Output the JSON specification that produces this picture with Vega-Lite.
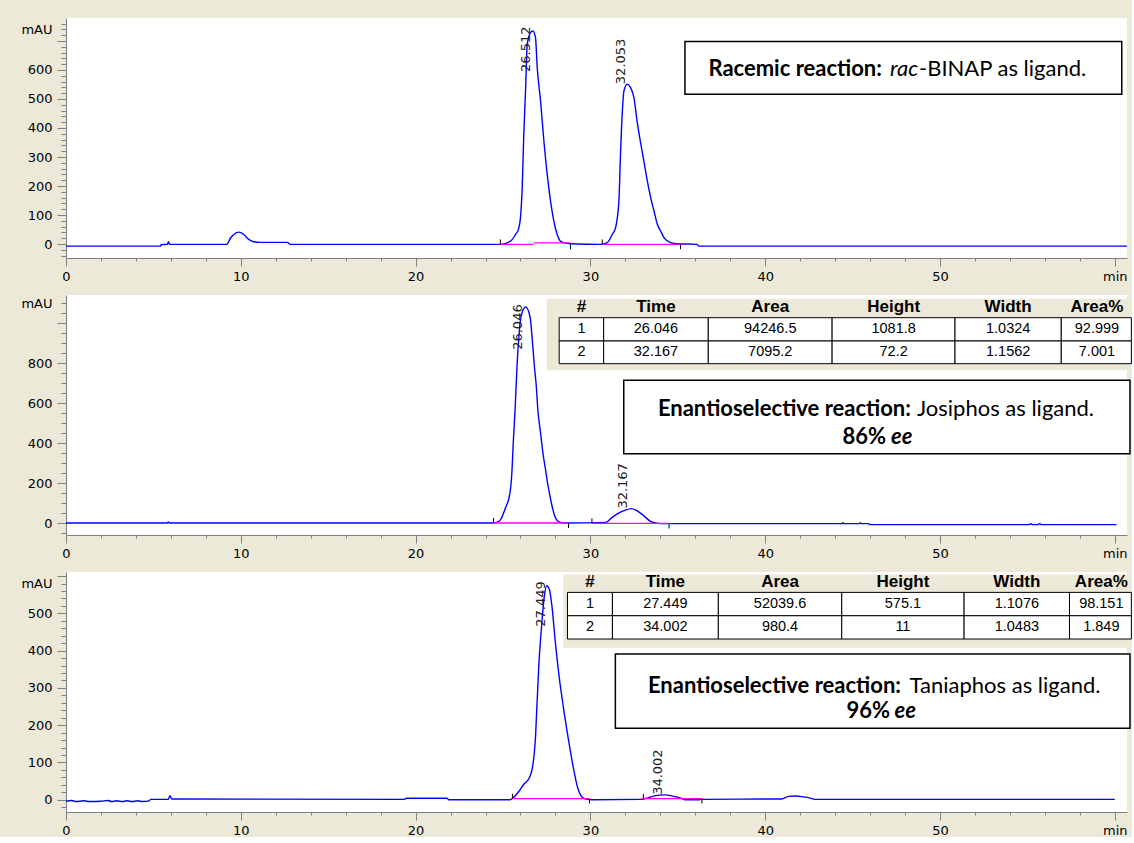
{
  "$schema": "https://vega.github.io/schema/vega-lite/v6.json",
  "background": "#ECE9D8",
  "padding": {"left": 20, "top": 17, "right": 0, "bottom": 0},
  "bounds": "flush",
  "spacing": 37,
  "config": {
    "view": {"fill": "white", "stroke": null},
    "axis": {"domainColor": "#808080", "tickColor": "#808080", "labelFont": "DejaVu Sans", "labelFontSize": 13, "labelColor": "#000000", "grid": false, "labelOverlap": false, "labelFlush": false, "labelBound": false, "tickCount": 200}
  },
  "datasets": {
    "trace": [
      {"p":"A","t":0,"v":-7},{"p":"A","t":5.4,"v":-7},{"p":"A","t":5.45,"v":-2},{"p":"A","t":5.8,"v":-1},{"p":"A","t":5.86,"v":8},{"p":"A","t":5.92,"v":-1},{"p":"A","t":9.2,"v":-1},{"p":"A","t":9.4,"v":20},{"p":"A","t":9.6,"v":33},{"p":"A","t":9.88,"v":41},{"p":"A","t":10.17,"v":33},{"p":"A","t":10.45,"v":16},{"p":"A","t":10.74,"v":8},{"p":"A","t":11.1,"v":6},{"p":"A","t":12.65,"v":6},{"p":"A","t":12.84,"v":-1},{"p":"A","t":24.85,"v":-1},{"p":"A","t":25.43,"v":10},{"p":"A","t":25.72,"v":33},{"p":"A","t":25.91,"v":56},{"p":"A","t":26.0,"v":91},{"p":"A","t":26.1,"v":194},{"p":"A","t":26.19,"v":378},{"p":"A","t":26.29,"v":528},{"p":"A","t":26.39,"v":689},{"p":"A","t":26.58,"v":729},{"p":"A","t":26.71,"v":734},{"p":"A","t":26.86,"v":711},{"p":"A","t":26.96,"v":608},{"p":"A","t":27.15,"v":493},{"p":"A","t":27.34,"v":355},{"p":"A","t":27.53,"v":240},{"p":"A","t":27.72,"v":148},{"p":"A","t":27.91,"v":79},{"p":"A","t":28.1,"v":33},{"p":"A","t":28.29,"v":10},{"p":"A","t":28.47,"v":5},{"p":"A","t":28.86,"v":1},{"p":"A","t":30.58,"v":-1},{"p":"A","t":30.97,"v":5},{"p":"A","t":31.25,"v":33},{"p":"A","t":31.44,"v":56},{"p":"A","t":31.63,"v":148},{"p":"A","t":31.73,"v":321},{"p":"A","t":31.83,"v":459},{"p":"A","t":31.92,"v":528},{"p":"A","t":32.11,"v":551},{"p":"A","t":32.3,"v":539},{"p":"A","t":32.49,"v":505},{"p":"A","t":32.68,"v":420},{"p":"A","t":32.87,"v":350},{"p":"A","t":33.06,"v":286},{"p":"A","t":33.26,"v":217},{"p":"A","t":33.45,"v":160},{"p":"A","t":33.64,"v":114},{"p":"A","t":33.83,"v":68},{"p":"A","t":34.02,"v":45},{"p":"A","t":34.21,"v":22},{"p":"A","t":34.59,"v":5},{"p":"A","t":34.97,"v":1},{"p":"A","t":36.1,"v":-1},{"p":"A","t":36.2,"v":-7},{"p":"A","t":60.7,"v":-7},
      {"p":"B","t":0,"v":0},{"p":"B","t":5.8,"v":0},{"p":"B","t":5.85,"v":5},{"p":"B","t":5.9,"v":0},{"p":"B","t":24.4,"v":0},{"p":"B","t":24.8,"v":10},{"p":"B","t":25.13,"v":72},{"p":"B","t":25.4,"v":150},{"p":"B","t":25.5,"v":240},{"p":"B","t":25.6,"v":420},{"p":"B","t":25.7,"v":580},{"p":"B","t":25.8,"v":780},{"p":"B","t":25.9,"v":920},{"p":"B","t":26.05,"v":1040},{"p":"B","t":26.3,"v":1080},{"p":"B","t":26.55,"v":1030},{"p":"B","t":26.7,"v":890},{"p":"B","t":26.8,"v":780},{"p":"B","t":26.9,"v":690},{"p":"B","t":27.0,"v":560},{"p":"B","t":27.15,"v":450},{"p":"B","t":27.3,"v":340},{"p":"B","t":27.41,"v":280},{"p":"B","t":27.55,"v":200},{"p":"B","t":27.68,"v":138},{"p":"B","t":27.82,"v":80},{"p":"B","t":27.95,"v":38},{"p":"B","t":28.1,"v":12},{"p":"B","t":28.25,"v":4},{"p":"B","t":28.5,"v":0},{"p":"B","t":30.89,"v":3},{"p":"B","t":31.16,"v":22},{"p":"B","t":31.56,"v":47},{"p":"B","t":31.96,"v":63},{"p":"B","t":32.36,"v":72},{"p":"B","t":32.63,"v":63},{"p":"B","t":33.03,"v":38},{"p":"B","t":33.44,"v":8},{"p":"B","t":33.71,"v":1},{"p":"B","t":34.0,"v":-3},{"p":"B","t":44.4,"v":-3},{"p":"B","t":44.45,"v":2},{"p":"B","t":44.5,"v":-3},{"p":"B","t":45.4,"v":-3},{"p":"B","t":45.45,"v":1},{"p":"B","t":45.5,"v":-3},{"p":"B","t":45.9,"v":-3},{"p":"B","t":46.0,"v":-8},{"p":"B","t":55.1,"v":-8},{"p":"B","t":55.2,"v":-3},{"p":"B","t":55.3,"v":-8},{"p":"B","t":55.6,"v":-8},{"p":"B","t":55.7,"v":-3},{"p":"B","t":55.8,"v":-8},{"p":"B","t":60.1,"v":-8},
      {"p":"C","t":0,"v":-4},{"p":"C","t":0.3,"v":-2},{"p":"C","t":0.6,"v":-5},{"p":"C","t":1.0,"v":-3},{"p":"C","t":1.4,"v":-5},{"p":"C","t":2.0,"v":-4},{"p":"C","t":2.4,"v":-2},{"p":"C","t":2.6,"v":-5},{"p":"C","t":2.9,"v":-3},{"p":"C","t":3.2,"v":-5},{"p":"C","t":3.5,"v":-3},{"p":"C","t":3.8,"v":-5},{"p":"C","t":4.1,"v":-3},{"p":"C","t":4.4,"v":-5},{"p":"C","t":4.75,"v":-3},{"p":"C","t":4.85,"v":1},{"p":"C","t":5.85,"v":1},{"p":"C","t":5.95,"v":11},{"p":"C","t":6.05,"v":2},{"p":"C","t":19.3,"v":1},{"p":"C","t":19.5,"v":4},{"p":"C","t":21.8,"v":4},{"p":"C","t":21.9,"v":0},{"p":"C","t":25.4,"v":0},{"p":"C","t":25.6,"v":6},{"p":"C","t":25.9,"v":22},{"p":"C","t":26.2,"v":42},{"p":"C","t":26.5,"v":58},{"p":"C","t":26.7,"v":90},{"p":"C","t":26.85,"v":160},{"p":"C","t":26.95,"v":260},{"p":"C","t":27.05,"v":360},{"p":"C","t":27.2,"v":460},{"p":"C","t":27.35,"v":540},{"p":"C","t":27.5,"v":574},{"p":"C","t":27.65,"v":565},{"p":"C","t":27.8,"v":520},{"p":"C","t":28.0,"v":420},{"p":"C","t":28.2,"v":335},{"p":"C","t":28.45,"v":250},{"p":"C","t":28.75,"v":160},{"p":"C","t":29.0,"v":92},{"p":"C","t":29.3,"v":28},{"p":"C","t":29.55,"v":6},{"p":"C","t":29.8,"v":1},{"p":"C","t":30.1,"v":0},{"p":"C","t":32.9,"v":1},{"p":"C","t":33.3,"v":5},{"p":"C","t":33.71,"v":11},{"p":"C","t":34.24,"v":13},{"p":"C","t":34.78,"v":9},{"p":"C","t":35.18,"v":4},{"p":"C","t":35.44,"v":0},{"p":"C","t":36.25,"v":0},{"p":"C","t":36.3,"v":1},{"p":"C","t":40.94,"v":2},{"p":"C","t":41.34,"v":9},{"p":"C","t":41.74,"v":10},{"p":"C","t":42.14,"v":8},{"p":"C","t":42.68,"v":3},{"p":"C","t":42.8,"v":1},{"p":"C","t":60.0,"v":1}
    ],
    "baseline": [
      {"p":"A","s":1,"t":24.85,"v":-1},{"p":"A","s":1,"t":26.75,"v":-1},{"p":"A","s":2,"t":26.75,"v":4},{"p":"A","s":2,"t":28.86,"v":4},{"p":"A","s":3,"t":30.68,"v":-1},{"p":"A","s":3,"t":35.16,"v":-1},
      {"p":"B","s":1,"t":24.46,"v":0},{"p":"B","s":1,"t":28.75,"v":0},{"p":"B","s":2,"t":30.09,"v":-2},{"p":"B","s":2,"t":34.5,"v":-2},
      {"p":"C","s":1,"t":25.54,"v":3},{"p":"C","s":1,"t":29.95,"v":3},{"p":"C","s":2,"t":33.03,"v":3},{"p":"C","s":2,"t":36.38,"v":3}
    ],
    "bounds": [
      {"p":"A","t":24.85,"v":-1,"v2":16},{"p":"A","t":28.86,"v":-1,"v2":-18},{"p":"A","t":30.68,"v":-1,"v2":16},{"p":"A","t":35.16,"v":-1,"v2":-18},
      {"p":"B","t":24.46,"v":0,"v2":25},{"p":"B","t":28.75,"v":0,"v2":-25},{"p":"B","t":30.09,"v":-2,"v2":23},{"p":"B","t":34.5,"v":-2,"v2":-27},
      {"p":"C","t":25.54,"v":3,"v2":16},{"p":"C","t":29.95,"v":3,"v2":-10},{"p":"C","t":33.03,"v":3,"v2":16},{"p":"C","t":36.38,"v":3,"v2":-10}
    ],
    "peaks": [
      {"p":"A","t":26.64,"v":593,"s":"26.512"},{"p":"A","t":32.08,"v":551,"s":"32.053"},
      {"p":"B","t":26.19,"v":866,"s":"26.046"},{"p":"B","t":32.23,"v":72,"s":"32.167"},
      {"p":"C","t":27.5,"v":464,"s":"27.449"},{"p":"C","t":34.24,"v":13,"s":"34.002"}
    ],
    "boxes": [
      {"p":"A","t":35.41,"t2":60.4,"v":516,"v2":698},
      {"p":"B","t":31.91,"t2":60.87,"v":346.5,"v2":713.5},
      {"p":"C","t":31.43,"t2":60.87,"v":191.5,"v2":390.8}
    ],
    "boxtext": [
      {"p":"A","k":"head","t":46.68,"v":602,"s":"Racemic reaction:"},
      {"p":"A","k":"ital","t":48.76,"v":602,"s":"rac"},
      {"p":"A","k":"plain","t":48.8,"v":602,"s":"-BINAP as ligand."},
      {"p":"B","k":"head","t":48.34,"v":571.5,"s":"Enantioselective reaction:"},
      {"p":"B","k":"plain","t":48.68,"v":571.5,"s":"Josiphos as ligand."},
      {"p":"B","k":"head","t":46.91,"v":430,"s":"86%"},
      {"p":"B","k":"ee","t":47.2,"v":430,"s":"ee"},
      {"p":"C","k":"head","t":47.77,"v":305.8,"s":"Enantioselective reaction:"},
      {"p":"C","k":"plain","t":48.26,"v":305.8,"s":"Taniaphos as ligand."},
      {"p":"C","k":"head","t":47.14,"v":238.7,"s":"96%"},
      {"p":"C","k":"ee","t":47.4,"v":238.7,"s":"ee"}
    ],
    "tableback": [
      {"p":"B","t":27.5,"t2":60.95,"v":763.5,"v2":1121},
      {"p":"C","t":28.45,"t2":60.95,"v":407.9,"v2":604.6}
    ],
    "cells": [
      {"p":"B","t":28.215,"t2":30.76,"v":910,"v2":1026.5},{"p":"B","t":30.76,"t2":36.745,"v":910,"v2":1026.5},{"p":"B","t":36.745,"t2":43.83,"v":910,"v2":1026.5},{"p":"B","t":43.83,"t2":50.86,"v":910,"v2":1026.5},{"p":"B","t":50.86,"t2":56.94,"v":910,"v2":1026.5},{"p":"B","t":56.94,"t2":60.95,"v":910,"v2":1026.5},
      {"p":"B","t":28.215,"t2":30.76,"v":796.5,"v2":910},{"p":"B","t":30.76,"t2":36.745,"v":796.5,"v2":910},{"p":"B","t":36.745,"t2":43.83,"v":796.5,"v2":910},{"p":"B","t":43.83,"t2":50.86,"v":796.5,"v2":910},{"p":"B","t":50.86,"t2":56.94,"v":796.5,"v2":910},{"p":"B","t":56.94,"t2":60.95,"v":796.5,"v2":910},
      {"p":"C","t":28.69,"t2":31.26,"v":493.6,"v2":556.3},{"p":"C","t":31.26,"t2":37.32,"v":493.6,"v2":556.3},{"p":"C","t":37.32,"t2":44.38,"v":493.6,"v2":556.3},{"p":"C","t":44.38,"t2":51.38,"v":493.6,"v2":556.3},{"p":"C","t":51.38,"t2":57.41,"v":493.6,"v2":556.3},{"p":"C","t":57.41,"t2":60.95,"v":493.6,"v2":556.3},
      {"p":"C","t":28.69,"t2":31.26,"v":431.1,"v2":493.6},{"p":"C","t":31.26,"t2":37.32,"v":431.1,"v2":493.6},{"p":"C","t":37.32,"t2":44.38,"v":431.1,"v2":493.6},{"p":"C","t":44.38,"t2":51.38,"v":431.1,"v2":493.6},{"p":"C","t":51.38,"t2":57.41,"v":431.1,"v2":493.6},{"p":"C","t":57.41,"t2":60.95,"v":431.1,"v2":493.6}
    ],
    "celltext": [
      {"p":"B","r":0,"t":29.49,"v":1080,"s":"#"},{"p":"B","r":0,"t":33.75,"v":1080,"s":"Time"},{"p":"B","r":0,"t":40.29,"v":1080,"s":"Area"},{"p":"B","r":0,"t":47.35,"v":1080,"s":"Height"},{"p":"B","r":0,"t":53.9,"v":1080,"s":"Width"},{"p":"B","r":0,"t":58.98,"v":1080,"s":"Area%"},
      {"p":"B","r":1,"t":29.49,"v":968,"s":"1"},{"p":"B","r":1,"t":33.75,"v":968,"s":"26.046"},{"p":"B","r":1,"t":40.29,"v":968,"s":"94246.5"},{"p":"B","r":1,"t":47.35,"v":968,"s":"1081.8"},{"p":"B","r":1,"t":53.9,"v":968,"s":"1.0324"},{"p":"B","r":1,"t":58.98,"v":968,"s":"92.999"},
      {"p":"B","r":2,"t":29.49,"v":853,"s":"2"},{"p":"B","r":2,"t":33.75,"v":853,"s":"32.167"},{"p":"B","r":2,"t":40.29,"v":853,"s":"7095.2"},{"p":"B","r":2,"t":47.35,"v":853,"s":"72.2"},{"p":"B","r":2,"t":53.9,"v":853,"s":"1.1562"},{"p":"B","r":2,"t":58.98,"v":853,"s":"7.001"},
      {"p":"C","r":0,"t":29.98,"v":583,"s":"#"},{"p":"C","r":0,"t":34.29,"v":583,"s":"Time"},{"p":"C","r":0,"t":40.85,"v":583,"s":"Area"},{"p":"C","r":0,"t":47.88,"v":583,"s":"Height"},{"p":"C","r":0,"t":54.4,"v":583,"s":"Width"},{"p":"C","r":0,"t":59.23,"v":583,"s":"Area%"},
      {"p":"C","r":1,"t":29.98,"v":525,"s":"1"},{"p":"C","r":1,"t":34.29,"v":525,"s":"27.449"},{"p":"C","r":1,"t":40.85,"v":525,"s":"52039.6"},{"p":"C","r":1,"t":47.88,"v":525,"s":"575.1"},{"p":"C","r":1,"t":54.4,"v":525,"s":"1.1076"},{"p":"C","r":1,"t":59.23,"v":525,"s":"98.151"},
      {"p":"C","r":2,"t":29.98,"v":462.4,"s":"2"},{"p":"C","r":2,"t":34.29,"v":462.4,"s":"34.002"},{"p":"C","r":2,"t":40.85,"v":462.4,"s":"980.4"},{"p":"C","r":2,"t":47.88,"v":462.4,"s":"11"},{"p":"C","r":2,"t":54.4,"v":462.4,"s":"1.0483"},{"p":"C","r":2,"t":59.23,"v":462.4,"s":"1.849"}
    ]
  },
  "vconcat": [
    {
      "width": 1061, "height": 240,
      "layer": [
        {"data": {"name": "trace"}, "transform": [{"filter": "datum.p === 'A'"}],
         "mark": {"type": "line", "color": "#0000FF", "strokeWidth": 1.4, "interpolate": "monotone", "clip": true},
         "encoding": {
           "x": {"field": "t", "type": "quantitative", "title": null, "scale": {"domain": [0, 60.7], "nice": false, "zero": false},
                 "axis": {"values": [0,2,4,6,8,10,12,14,16,18,20,22,24,26,28,30,32,34,36,38,40,42,44,46,48,50,52,54,56,58,60], "tickCount": 200, "labelExpr": "datum.value === 60 ? 'min' : (datum.value % 10 === 0 ? format(datum.value, 'd') : '')", "tickSize": {"condition": {"test": "datum.value % 10 === 0", "value": 8}, "value": 3}, "labelPadding": 4, "labelOverlap": false, "labelFont": "DejaVu Sans", "labelFontSize": 13, "title": null}},
           "y": {"field": "v", "type": "quantitative", "title": null, "scale": {"domain": [-48, 779], "nice": false, "zero": false},
                 "axis": {"values": [-40,-20,0,20,40,60,80,100,120,140,160,180,200,220,240,260,280,300,320,340,360,380,400,420,440,460,480,500,520,540,560,580,600,620,640,660,680,700,720,740,760], "tickCount": 200, "labelExpr": "datum.value === 740 ? 'mAU' : ((datum.value % 100 === 0 && datum.value >= 0 && datum.value <= 600) ? format(datum.value, 'd') : '')", "tickSize": {"condition": {"test": "datum.value % 100 === 0", "value": 9}, "value": 5}, "labelPadding": {"condition": {"test": "datum.value % 100 === 0", "value": 5}, "value": 9}, "labelOverlap": false, "labelFont": "DejaVu Sans", "labelFontSize": 13, "title": null}}
         }},
        {"data": {"name": "baseline"}, "transform": [{"filter": "datum.p === 'A'"}],
         "mark": {"type": "line", "color": "#FF00FF", "strokeWidth": 1.4},
         "encoding": {"x": {"field": "t", "type": "quantitative", "title": null}, "y": {"field": "v", "type": "quantitative", "title": null}, "detail": {"field": "s"}}},
        {"data": {"name": "bounds"}, "transform": [{"filter": "datum.p === 'A'"}],
         "mark": {"type": "rule", "color": "#000000", "strokeWidth": 1},
         "encoding": {"x": {"field": "t", "type": "quantitative", "title": null}, "y": {"field": "v", "type": "quantitative", "title": null}, "y2": {"field": "v2"}}},
        {"data": {"name": "peaks"}, "transform": [{"filter": "datum.p === 'A'"}],
         "mark": {"type": "text", "angle": 270, "align": "left", "baseline": "middle", "dy": -6, "font": "DejaVu Sans", "fontSize": 13, "color": "#222222"},
         "encoding": {"x": {"field": "t", "type": "quantitative", "title": null}, "y": {"field": "v", "type": "quantitative", "title": null}, "text": {"field": "s"}}},
        {"data": {"name": "boxes"}, "transform": [{"filter": "datum.p === 'A'"}],
         "mark": {"type": "rect", "fill": "white", "stroke": "black", "strokeWidth": 1.5, "clip": false},
         "encoding": {"x": {"field": "t", "type": "quantitative", "title": null}, "x2": {"field": "t2"}, "y": {"field": "v", "type": "quantitative", "title": null}, "y2": {"field": "v2"}}},
        {"data": {"name": "boxtext"}, "transform": [{"filter": "datum.p === 'A' && datum.k === 'head'"}],
         "mark": {"type": "text", "align": "right", "baseline": "middle", "font": "Lato", "fontSize": 22, "fontWeight": "bold", "color": "black"},
         "encoding": {"x": {"field": "t", "type": "quantitative", "title": null}, "y": {"field": "v", "type": "quantitative", "title": null}, "text": {"field": "s"}}},
        {"data": {"name": "boxtext"}, "transform": [{"filter": "datum.p === 'A' && datum.k === 'ital'"}],
         "mark": {"type": "text", "align": "right", "baseline": "middle", "font": "Lato", "fontSize": 22, "fontStyle": "italic", "color": "black"},
         "encoding": {"x": {"field": "t", "type": "quantitative", "title": null}, "y": {"field": "v", "type": "quantitative", "title": null}, "text": {"field": "s"}}},
        {"data": {"name": "boxtext"}, "transform": [{"filter": "datum.p === 'A' && datum.k === 'plain'"}],
         "mark": {"type": "text", "align": "left", "baseline": "middle", "font": "Lato", "fontSize": 22, "color": "black"},
         "encoding": {"x": {"field": "t", "type": "quantitative", "title": null}, "y": {"field": "v", "type": "quantitative", "title": null}, "text": {"field": "s"}}}
      ]
    },
    {
      "width": 1061, "height": 240,
      "layer": [
        {"data": {"name": "trace"}, "transform": [{"filter": "datum.p === 'B'"}],
         "mark": {"type": "line", "color": "#0000FF", "strokeWidth": 1.4, "interpolate": "monotone", "clip": true},
         "encoding": {
           "x": {"field": "t", "type": "quantitative", "title": null, "scale": {"domain": [0, 60.7], "nice": false, "zero": false},
                 "axis": {"values": [0,2,4,6,8,10,12,14,16,18,20,22,24,26,28,30,32,34,36,38,40,42,44,46,48,50,52,54,56,58,60], "tickCount": 200, "labelExpr": "datum.value === 60 ? 'min' : (datum.value % 10 === 0 ? format(datum.value, 'd') : '')", "tickSize": {"condition": {"test": "datum.value % 10 === 0", "value": 8}, "value": 3}, "labelPadding": 4, "labelOverlap": false, "labelFont": "DejaVu Sans", "labelFontSize": 13, "title": null}},
           "y": {"field": "v", "type": "quantitative", "title": null, "scale": {"domain": [-60, 1140], "nice": false, "zero": false},
                 "axis": {"values": [-50,0,50,100,150,200,250,300,350,400,450,500,550,600,650,700,750,800,850,900,950,1000,1050,1100], "tickCount": 200, "labelExpr": "datum.value === 1100 ? 'mAU' : ((datum.value % 200 === 0 && datum.value >= 0 && datum.value <= 800) ? format(datum.value, 'd') : '')", "tickSize": {"condition": {"test": "datum.value % 200 === 0", "value": 9}, "value": 5}, "labelPadding": {"condition": {"test": "datum.value % 200 === 0", "value": 5}, "value": 9}, "labelOverlap": false, "labelFont": "DejaVu Sans", "labelFontSize": 13, "title": null}}
         }},
        {"data": {"name": "baseline"}, "transform": [{"filter": "datum.p === 'B'"}],
         "mark": {"type": "line", "color": "#FF00FF", "strokeWidth": 1.4},
         "encoding": {"x": {"field": "t", "type": "quantitative", "title": null}, "y": {"field": "v", "type": "quantitative", "title": null}, "detail": {"field": "s"}}},
        {"data": {"name": "bounds"}, "transform": [{"filter": "datum.p === 'B'"}],
         "mark": {"type": "rule", "color": "#000000", "strokeWidth": 1},
         "encoding": {"x": {"field": "t", "type": "quantitative", "title": null}, "y": {"field": "v", "type": "quantitative", "title": null}, "y2": {"field": "v2"}}},
        {"data": {"name": "peaks"}, "transform": [{"filter": "datum.p === 'B'"}],
         "mark": {"type": "text", "angle": 270, "align": "left", "baseline": "middle", "dy": -6, "font": "DejaVu Sans", "fontSize": 13, "color": "#222222"},
         "encoding": {"x": {"field": "t", "type": "quantitative", "title": null}, "y": {"field": "v", "type": "quantitative", "title": null}, "text": {"field": "s"}}},
        {"data": {"name": "tableback"}, "transform": [{"filter": "datum.p === 'B'"}],
         "mark": {"type": "rect", "fill": "#ECE9D8", "clip": false},
         "encoding": {"x": {"field": "t", "type": "quantitative", "title": null}, "x2": {"field": "t2"}, "y": {"field": "v", "type": "quantitative", "title": null}, "y2": {"field": "v2"}}},
        {"data": {"name": "cells"}, "transform": [{"filter": "datum.p === 'B'"}],
         "mark": {"type": "rect", "fill": "white", "stroke": "black", "strokeWidth": 1, "clip": false},
         "encoding": {"x": {"field": "t", "type": "quantitative", "title": null}, "x2": {"field": "t2"}, "y": {"field": "v", "type": "quantitative", "title": null}, "y2": {"field": "v2"}}},
        {"data": {"name": "celltext"}, "transform": [{"filter": "datum.p === 'B' && datum.r === 0"}],
         "mark": {"type": "text", "align": "center", "baseline": "middle", "font": "Liberation Sans", "fontSize": 17, "fontWeight": "bold", "color": "black"},
         "encoding": {"x": {"field": "t", "type": "quantitative", "title": null}, "y": {"field": "v", "type": "quantitative", "title": null}, "text": {"field": "s"}}},
        {"data": {"name": "celltext"}, "transform": [{"filter": "datum.p === 'B' && datum.r > 0"}],
         "mark": {"type": "text", "align": "center", "baseline": "middle", "font": "Liberation Sans", "fontSize": 14.5, "color": "black"},
         "encoding": {"x": {"field": "t", "type": "quantitative", "title": null}, "y": {"field": "v", "type": "quantitative", "title": null}, "text": {"field": "s"}}},
        {"data": {"name": "boxes"}, "transform": [{"filter": "datum.p === 'B'"}],
         "mark": {"type": "rect", "fill": "white", "stroke": "black", "strokeWidth": 1.5, "clip": false},
         "encoding": {"x": {"field": "t", "type": "quantitative", "title": null}, "x2": {"field": "t2"}, "y": {"field": "v", "type": "quantitative", "title": null}, "y2": {"field": "v2"}}},
        {"data": {"name": "boxtext"}, "transform": [{"filter": "datum.p === 'B' && datum.k === 'head'"}],
         "mark": {"type": "text", "align": "right", "baseline": "middle", "font": "Lato", "fontSize": 22, "fontWeight": "bold", "color": "black"},
         "encoding": {"x": {"field": "t", "type": "quantitative", "title": null}, "y": {"field": "v", "type": "quantitative", "title": null}, "text": {"field": "s"}}},
        {"data": {"name": "boxtext"}, "transform": [{"filter": "datum.p === 'B' && datum.k === 'plain'"}],
         "mark": {"type": "text", "align": "left", "baseline": "middle", "font": "Lato", "fontSize": 22, "color": "black"},
         "encoding": {"x": {"field": "t", "type": "quantitative", "title": null}, "y": {"field": "v", "type": "quantitative", "title": null}, "text": {"field": "s"}}},
        {"data": {"name": "boxtext"}, "transform": [{"filter": "datum.p === 'B' && datum.k === 'ee'"}],
         "mark": {"type": "text", "align": "left", "baseline": "middle", "font": "Lato", "fontSize": 22, "fontWeight": "bold", "fontStyle": "italic", "color": "black"},
         "encoding": {"x": {"field": "t", "type": "quantitative", "title": null}, "y": {"field": "v", "type": "quantitative", "title": null}, "text": {"field": "s"}}}
      ]
    },
    {
      "width": 1061, "height": 240,
      "layer": [
        {"data": {"name": "trace"}, "transform": [{"filter": "datum.p === 'C'"}],
         "mark": {"type": "line", "color": "#0000FF", "strokeWidth": 1.4, "interpolate": "monotone", "clip": true},
         "encoding": {
           "x": {"field": "t", "type": "quantitative", "title": null, "scale": {"domain": [0, 60.7], "nice": false, "zero": false},
                 "axis": {"values": [0,2,4,6,8,10,12,14,16,18,20,22,24,26,28,30,32,34,36,38,40,42,44,46,48,50,52,54,56,58,60], "tickCount": 200, "labelExpr": "datum.value === 60 ? 'min' : (datum.value % 10 === 0 ? format(datum.value, 'd') : '')", "tickSize": {"condition": {"test": "datum.value % 10 === 0", "value": 8}, "value": 3}, "labelPadding": 4, "labelOverlap": false, "labelFont": "DejaVu Sans", "labelFontSize": 13, "title": null}},
           "y": {"field": "v", "type": "quantitative", "title": null, "scale": {"domain": [-33, 611], "nice": false, "zero": false},
                 "axis": {"values": [-20,0,20,40,60,80,100,120,140,160,180,200,220,240,260,280,300,320,340,360,380,400,420,440,460,480,500,520,540,560,580,600], "tickCount": 200, "labelExpr": "datum.value === 580 ? 'mAU' : ((datum.value % 100 === 0 && datum.value >= 0 && datum.value <= 500) ? format(datum.value, 'd') : '')", "tickSize": {"condition": {"test": "datum.value % 100 === 0", "value": 9}, "value": 5}, "labelPadding": {"condition": {"test": "datum.value % 100 === 0", "value": 5}, "value": 9}, "labelOverlap": false, "labelFont": "DejaVu Sans", "labelFontSize": 13, "title": null}}
         }},
        {"data": {"name": "baseline"}, "transform": [{"filter": "datum.p === 'C'"}],
         "mark": {"type": "line", "color": "#FF00FF", "strokeWidth": 1.4},
         "encoding": {"x": {"field": "t", "type": "quantitative", "title": null}, "y": {"field": "v", "type": "quantitative", "title": null}, "detail": {"field": "s"}}},
        {"data": {"name": "bounds"}, "transform": [{"filter": "datum.p === 'C'"}],
         "mark": {"type": "rule", "color": "#000000", "strokeWidth": 1},
         "encoding": {"x": {"field": "t", "type": "quantitative", "title": null}, "y": {"field": "v", "type": "quantitative", "title": null}, "y2": {"field": "v2"}}},
        {"data": {"name": "peaks"}, "transform": [{"filter": "datum.p === 'C'"}],
         "mark": {"type": "text", "angle": 270, "align": "left", "baseline": "middle", "dy": -6, "font": "DejaVu Sans", "fontSize": 13, "color": "#222222"},
         "encoding": {"x": {"field": "t", "type": "quantitative", "title": null}, "y": {"field": "v", "type": "quantitative", "title": null}, "text": {"field": "s"}}},
        {"data": {"name": "tableback"}, "transform": [{"filter": "datum.p === 'C'"}],
         "mark": {"type": "rect", "fill": "#ECE9D8", "clip": false},
         "encoding": {"x": {"field": "t", "type": "quantitative", "title": null}, "x2": {"field": "t2"}, "y": {"field": "v", "type": "quantitative", "title": null}, "y2": {"field": "v2"}}},
        {"data": {"name": "cells"}, "transform": [{"filter": "datum.p === 'C'"}],
         "mark": {"type": "rect", "fill": "white", "stroke": "black", "strokeWidth": 1, "clip": false},
         "encoding": {"x": {"field": "t", "type": "quantitative", "title": null}, "x2": {"field": "t2"}, "y": {"field": "v", "type": "quantitative", "title": null}, "y2": {"field": "v2"}}},
        {"data": {"name": "celltext"}, "transform": [{"filter": "datum.p === 'C' && datum.r === 0"}],
         "mark": {"type": "text", "align": "center", "baseline": "middle", "font": "Liberation Sans", "fontSize": 17, "fontWeight": "bold", "color": "black"},
         "encoding": {"x": {"field": "t", "type": "quantitative", "title": null}, "y": {"field": "v", "type": "quantitative", "title": null}, "text": {"field": "s"}}},
        {"data": {"name": "celltext"}, "transform": [{"filter": "datum.p === 'C' && datum.r > 0"}],
         "mark": {"type": "text", "align": "center", "baseline": "middle", "font": "Liberation Sans", "fontSize": 14.5, "color": "black"},
         "encoding": {"x": {"field": "t", "type": "quantitative", "title": null}, "y": {"field": "v", "type": "quantitative", "title": null}, "text": {"field": "s"}}},
        {"data": {"name": "boxes"}, "transform": [{"filter": "datum.p === 'C'"}],
         "mark": {"type": "rect", "fill": "white", "stroke": "black", "strokeWidth": 1.5, "clip": false},
         "encoding": {"x": {"field": "t", "type": "quantitative", "title": null}, "x2": {"field": "t2"}, "y": {"field": "v", "type": "quantitative", "title": null}, "y2": {"field": "v2"}}},
        {"data": {"name": "boxtext"}, "transform": [{"filter": "datum.p === 'C' && datum.k === 'head'"}],
         "mark": {"type": "text", "align": "right", "baseline": "middle", "font": "Lato", "fontSize": 22, "fontWeight": "bold", "color": "black"},
         "encoding": {"x": {"field": "t", "type": "quantitative", "title": null}, "y": {"field": "v", "type": "quantitative", "title": null}, "text": {"field": "s"}}},
        {"data": {"name": "boxtext"}, "transform": [{"filter": "datum.p === 'C' && datum.k === 'plain'"}],
         "mark": {"type": "text", "align": "left", "baseline": "middle", "font": "Lato", "fontSize": 22, "color": "black"},
         "encoding": {"x": {"field": "t", "type": "quantitative", "title": null}, "y": {"field": "v", "type": "quantitative", "title": null}, "text": {"field": "s"}}},
        {"data": {"name": "boxtext"}, "transform": [{"filter": "datum.p === 'C' && datum.k === 'ee'"}],
         "mark": {"type": "text", "align": "left", "baseline": "middle", "font": "Lato", "fontSize": 22, "fontWeight": "bold", "fontStyle": "italic", "color": "black"},
         "encoding": {"x": {"field": "t", "type": "quantitative", "title": null}, "y": {"field": "v", "type": "quantitative", "title": null}, "text": {"field": "s"}}}
      ]
    }
  ]
}
